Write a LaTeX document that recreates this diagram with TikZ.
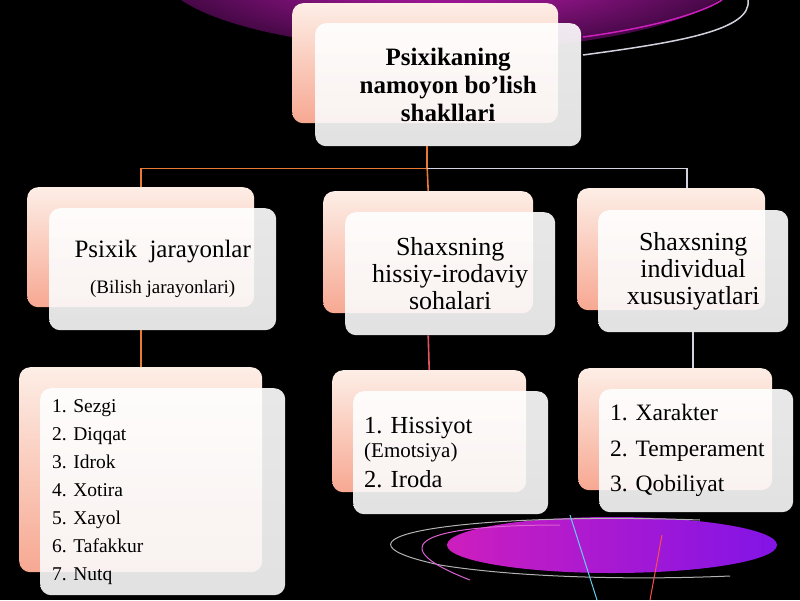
\documentclass[tikz,border=0pt]{standalone}
\usepackage{fontspec}
\setmainfont{Liberation Serif}
\usetikzlibrary{positioning}
\frenchspacing

\definecolor{cardpink}{RGB}{247,168,146}
\definecolor{cardcream}{RGB}{253,238,230}
\definecolor{linkorange}{RGB}{232,122,52}
\definecolor{linkgray}{RGB}{212,210,222}
\definecolor{linkred}{RGB}{226,84,96}
\definecolor{glowpink}{RGB}{205,30,190}
\definecolor{glowdark}{RGB}{70,8,70}
\definecolor{glowviolet}{RGB}{130,20,230}

\begin{document}
\begin{tikzpicture}[
x=1pt, y=-1pt,
    backcard/.style={
        rectangle,
        rounded corners=11pt,
        top color=cardcream,
        bottom color=cardpink,
        anchor=north west,
        inner sep=0pt
    },
    frontcard/.style={
        rectangle,
        rounded corners=11pt,
        top color=white,
        bottom color=gray!5,
        fill opacity=0.91,
        text opacity=1,
        anchor=north west,
        inner sep=0pt,
        align=center
    },
    link/.style={line width=1.6pt}
    ]
\useasboundingbox (0,0) rectangle (800,600);
% background
\begin{scope}
\clip (0,0) rectangle (800,600);
\fill[black] (0,0) rectangle (800,600);
\fill[inner color=glowpink, outer color=glowdark] (450,-30) ellipse [x radius=290pt, y radius=80pt];
\draw[glowpink, line width=1.5pt] (583,37) .. controls (650,28) and (700,14) .. (722,0);
\draw[linkgray, line width=1.5pt] (583,55) .. controls (680,42) and (752,30) .. (748,0);
\shade[left color=glowpink, right color=glowviolet] (612,545) ellipse [x radius=165pt, y radius=28pt];
\draw[gray!60, line width=1pt] (700,520) .. controls (480,512) and (300,535) .. (440,565) .. controls (520,578) and (640,580) .. (730,576);
\draw[glowpink!70, line width=1pt] (560,525) .. controls (420,525) and (380,545) .. (470,580);
\draw[cyan!60, line width=1pt] (570,515) -- (597,600);
\draw[red!70, line width=1pt] (650,600) -- (662,535);
\end{scope}

% cards
\node[backcard, minimum width=266pt, minimum height=120pt] (topb) at (292,3) {};
\node[frontcard, minimum width=266pt, minimum height=123pt, font=\bfseries\fontsize{25}{28}\selectfont] (topf) at ([shift={(23,20)}]topb.north west) {Psixikaning\\namoyon bo’lish\\shakllari};

\node[backcard, minimum width=227pt, minimum height=120pt] (l1b) at (27,187) {};
\node[frontcard, minimum width=227pt, minimum height=122pt, font=\fontsize{25}{30}\selectfont] (l1f) at ([shift={(22,21)}]l1b.north west) {Psixik\ \ jarayonlar\\[6pt]{\fontsize{19}{22}\selectfont(Bilish jarayonlari)}};

\node[backcard, minimum width=210pt, minimum height=122pt] (m1b) at (323,191) {};
\node[frontcard, minimum width=210pt, minimum height=123pt, font=\fontsize{26}{27}\selectfont] (m1f) at ([shift={(22,21)}]m1b.north west) {Shaxsning\\hissiy-irodaviy\\sohalari};

\node[backcard, minimum width=188pt, minimum height=122pt] (r1b) at (577,188) {};
\node[frontcard, minimum width=190pt, minimum height=122pt, font=\fontsize{26}{27}\selectfont] (r1f) at ([shift={(21,22)}]r1b.north west) {Shaxsning\\individual\\xususiyatlari};

\node[backcard, minimum width=243pt, minimum height=205pt] (l2b) at (19,367) {};
\node[frontcard, minimum width=245pt, minimum height=207pt, text width=221pt, align=left, font=\fontsize{19.5}{28}\selectfont] (l2f) at ([shift={(21,21)}]l2b.north west) {1. Sezgi\\2. Diqqat\\3. Idrok\\4. Xotira\\5. Xayol\\6. Tafakkur\\7. Nutq};

\node[backcard, minimum width=194pt, minimum height=122pt] (m2b) at (332,370) {};
\node[frontcard, minimum width=195pt, minimum height=123pt, text width=173pt, align=left, font=\fontsize{24.5}{30}\selectfont] (m2f) at ([shift={(21,21)}]m2b.north west) {1. Hissiyot\\[-6pt]{\fontsize{21}{24}\selectfont(Emotsiya)}\\2. Iroda};

\node[backcard, minimum width=194pt, minimum height=122pt] (r2b) at (578,368) {};
\node[frontcard, minimum width=194pt, minimum height=123pt, text width=172pt, align=left, font=\fontsize{23.5}{35.5}\selectfont] (r2f) at ([shift={(21,21)}]r2b.north west) {1. Xarakter\\2. Temperament\\3. Qobiliyat};

% links
\coordinate (fork) at ([xshift=2pt, yshift=-45pt]topb.south);
\draw[link, linkorange] (fork |- topf.south) -- (fork) -| (l1b.north);
\draw[link, linkorange] (fork) -- (m1b.north);
\draw[link, linkgray] (fork) -| ([xshift=16pt]r1b.north);
\draw[link, linkorange] (l1b.south |- l1f.south) -- (l2b.north);
\draw[link, linkred] (m1b.south |- m1f.south) -- (m2b.north);
\draw[link, linkgray] (r1f.south) -- (r1f.south |- r2b.north);
\end{tikzpicture}
\end{document}
